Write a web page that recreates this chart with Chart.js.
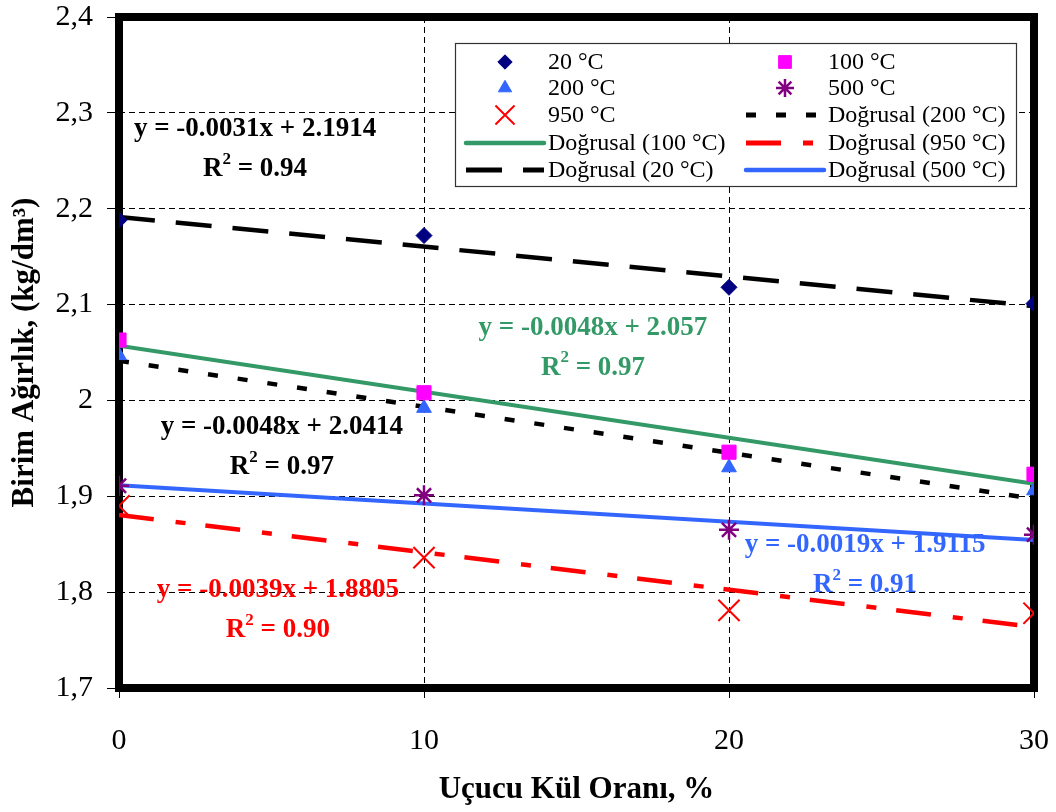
<!DOCTYPE html>
<html>
<head>
<meta charset="utf-8">
<script src="https://cdn.jsdelivr.net/npm/chart.js@4"></script>
<style>
  html, body { margin: 0; padding: 0; background: #fff; }
  #wrap { width: 1056px; height: 812px; }
</style>
</head>
<body>
<div id="wrap"><canvas id="birimChart" width="1056" height="812"></canvas></div>
<script>
// fly ash ratio (%)
var xValues = [0, 10, 20, 30];
var yTicks = [1.7, 1.8, 1.9, 2.0, 2.1, 2.2, 2.3, 2.4];

// measured unit weight per temperature
var temps = ['20 °C', '100 °C', '200 °C', '500 °C', '950 °C'];
var w20  = [2.188, 2.172, 2.118, 2.101];
var w100 = [2.063, 2.008, 1.946, 1.923];
var w200 = [2.047, 1.992, 1.930, 1.906];
var w500 = [1.911, 1.901, 1.865, 1.860];
var w950 = [1.890, 1.836, 1.781, 1.778];

// linear trend lines (slope, intercept) as printed on the chart
var slopes     = [-0.0031, -0.0048, -0.0048, -0.0019, -0.0039];
var intercepts = [2.1914, 2.057, 2.0414, 1.9115, 1.8805];
var r2         = ['0.94', '0.97', '0.97', '0.91', '0.90'];

var SERIF = '"Liberation Serif", "Times New Roman", serif';

function pts(arr) {
  return arr.map(function(v, i) { return {x: xValues[i], y: v}; });
}
function trend(i) {
  var a = xValues[0], b = xValues[xValues.length - 1];
  return [{x: a, y: slopes[i] * a + intercepts[i]}, {x: b, y: slopes[i] * b + intercepts[i]}];
}

var colors = {t20: '#000080', t100: '#ff00ff', t200: '#3366ff', t500: '#800080', t950: '#ff0000', green: '#339966'};

var datasets = [
  // trend lines first so markers sit on top
  {label: 'Doğrusal (20 °C)', data: trend(0), borderColor: '#000', borderWidth: 4.5, borderDash: [36, 21], pointRadius: 0, showLine: true, order: 2},
  {label: 'Doğrusal (100 °C)', data: trend(1), borderColor: colors.green, borderWidth: 4, pointRadius: 0, showLine: true, order: 2},
  {label: 'Doğrusal (200 °C)', data: trend(2), borderColor: '#000', borderWidth: 4.5, borderDash: [10, 20], pointRadius: 0, showLine: true, order: 2},
  {label: 'Doğrusal (500 °C)', data: trend(3), borderColor: colors.t200, borderWidth: 4, pointRadius: 0, showLine: true, order: 2},
  {label: 'Doğrusal (950 °C)', data: trend(4), borderColor: colors.t950, borderWidth: 4.5, borderDash: [35, 22, 10, 20], pointRadius: 0, showLine: true, order: 2},

  {label: temps[0], data: pts(w20), pointStyle: 'rectRot', pointRadius: 8, backgroundColor: colors.t20, borderColor: colors.t20, borderWidth: 1, showLine: false, order: 1},
  {label: temps[1], data: pts(w100), pointStyle: 'rect', pointRadius: 10, backgroundColor: colors.t100, borderColor: colors.t100, borderWidth: 1, showLine: false, order: 1},
  {label: temps[2], data: pts(w200), pointStyle: 'triangle', pointRadius: 8.5, backgroundColor: colors.t200, borderColor: colors.t200, borderWidth: 1, showLine: false, order: 1},
  {label: temps[3], data: pts(w500), pointStyle: 'star', pointRadius: 10, backgroundColor: colors.t500, borderColor: colors.t500, borderWidth: 2.5, showLine: false, order: 1},
  {label: temps[4], data: pts(w950), pointStyle: 'crossRot', pointRadius: 15, backgroundColor: colors.t950, borderColor: colors.t950, borderWidth: 2, showLine: false, order: 1}
];

// where each equation is written (data coordinates of the first line's centre)
var eqLabels = [
  {i: 0, color: '#000', x: 4.46, y: 2.283},
  {i: 1, color: colors.green, x: 15.54, y: 2.076},
  {i: 2, color: '#000', x: 5.34, y: 1.972},
  {i: 3, color: colors.t200, x: 24.46, y: 1.849},
  {i: 4, color: colors.t950, x: 5.21, y: 1.802}
];

var framePlugin = {
  id: 'frame',
  beforeDatasetsDraw: function(chart) {
    var a = chart.chartArea, ctx = chart.ctx;
    ctx.save();
    ctx.strokeStyle = '#000';
    ctx.lineWidth = 8;
    ctx.strokeRect(a.left, a.top, a.right - a.left, a.bottom - a.top);
    ctx.restore();
  },
  afterDatasetsDraw: function(chart) {
    var ctx = chart.ctx, xs = chart.scales.x, ys = chart.scales.y;
    ctx.save();
    // equations
    ctx.textBaseline = 'middle';
    eqLabels.forEach(function(e) {
      var cx = xs.getPixelForValue(e.x), cy = ys.getPixelForValue(e.y);
      ctx.fillStyle = e.color;
      ctx.font = 'bold 27px ' + SERIF;
      ctx.textAlign = 'center';
      var l1 = 'y = ' + slopes[e.i] + 'x + ' + intercepts[e.i];
      ctx.fillText(l1, cx, cy);
      var a = 'R', b = ' = ' + r2[e.i];
      var wa = ctx.measureText(a).width, wb = ctx.measureText(b).width;
      ctx.font = 'bold 17px ' + SERIF;
      var ws = ctx.measureText('2').width;
      var x0 = cx - (wa + ws + wb) / 2, y2 = cy + 40;
      ctx.textAlign = 'left';
      ctx.font = 'bold 27px ' + SERIF;
      ctx.fillText(a, x0, y2);
      ctx.fillText(b, x0 + wa + ws, y2);
      ctx.font = 'bold 17px ' + SERIF;
      ctx.fillText('2', x0 + wa, y2 - 10);
    });

    // legend box
    var bx = 455, by = 43, bw = 561, bh = 143;
    ctx.fillStyle = '#fff';
    ctx.fillRect(bx, by, bw, bh);
    ctx.strokeStyle = '#333';
    ctx.lineWidth = 1.2;
    ctx.strokeRect(bx + 0.5, by + 0.5, bw, bh);

    var order = [5, 6, 7, 8, 9, 2, 1, 4, 0, 3];
    var colX = [466, 746], rowY = [62, 88, 115, 143, 170];
    ctx.font = '24px ' + SERIF;
    ctx.textAlign = 'left';
    ctx.textBaseline = 'middle';
    order.forEach(function(di, k) {
      var ds = chart.data.datasets[di];
      var x = colX[k % 2], y = rowY[Math.floor(k / 2)];
      if (ds.pointRadius > 0) {
        ctx.fillStyle = ds.backgroundColor;
        ctx.strokeStyle = ds.borderColor;
        ctx.lineWidth = ds.borderWidth;
        Chart.helpers.drawPoint(ctx, {pointStyle: ds.pointStyle, radius: ds.pointRadius * 0.9, rotation: 0, borderWidth: ds.borderWidth}, x + 39, y);
      } else {
        ctx.strokeStyle = ds.borderColor;
        ctx.lineWidth = ds.borderWidth + 0.5;
        ctx.setLineDash(ds.borderDash ? [ds.borderDash[0], ds.borderDash[1], ds.borderDash[2] || ds.borderDash[0], ds.borderDash[3] || ds.borderDash[1]] : []);
        ctx.lineCap = ds.borderDash ? 'butt' : 'round';
        ctx.beginPath();
        ctx.moveTo(x, y);
        ctx.lineTo(x + 78, y);
        ctx.stroke();
        ctx.setLineDash([]);
      }
      ctx.fillStyle = '#000';
      ctx.fillText(ds.label, x + 82, y + 1);
    });
    ctx.restore();
  }
};

function noPad(s) { s.paddingTop = 0; s.paddingBottom = 0; s.paddingLeft = 0; s.paddingRight = 0; }

var ctx = document.getElementById('birimChart').getContext('2d');
var chart = new Chart(ctx, {
  type: 'scatter',
  data: {datasets: datasets},
  plugins: [framePlugin],
  options: {
    responsive: false,
    animation: false,
    layout: {padding: {top: 16, right: 22, left: 0, bottom: 0}},
    plugins: {
      legend: {display: false},
      tooltip: {enabled: false}
    },
    scales: {
      x: {
        type: 'linear',
        min: 0, max: 30,
        afterFit: function(s) { s.height = 124; noPad(s); },
        afterBuildTicks: function(s) { s.ticks = xValues.map(function(v) { return {value: v}; }); },
        ticks: {color: '#000', font: {family: SERIF, size: 30}, padding: 25},
        grid: {color: '#000', lineWidth: 1, tickLength: 10, tickColor: '#000'},
        border: {display: false, dash: [6, 4]},
        title: {display: true, text: 'Uçucu Kül Oranı, %', color: '#000', font: {family: SERIF, size: 31, weight: 'bold'}, padding: {top: 0, bottom: 3}}
      },
      y: {
        min: 1.7, max: 2.4,
        afterFit: function(s) { s.width = 119; noPad(s); },
        afterBuildTicks: function(s) { s.ticks = yTicks.map(function(v) { return {value: v}; }); },
        ticks: {
          color: '#000', font: {family: SERIF, size: 30}, padding: 14,
          callback: function(v) { return String(Number(v.toFixed(1))).replace('.', ','); }
        },
        grid: {color: '#000', lineWidth: 1, tickLength: 12, tickColor: '#000'},
        border: {display: false, dash: [6, 4]},
        title: {display: true, text: 'Birim Ağırlık, (kg/dm³)', color: '#000', font: {family: SERIF, size: 31, weight: 'bold'}, padding: {top: 6, bottom: 0}}
      }
    }
  }
});
</script>
</body>
</html>
